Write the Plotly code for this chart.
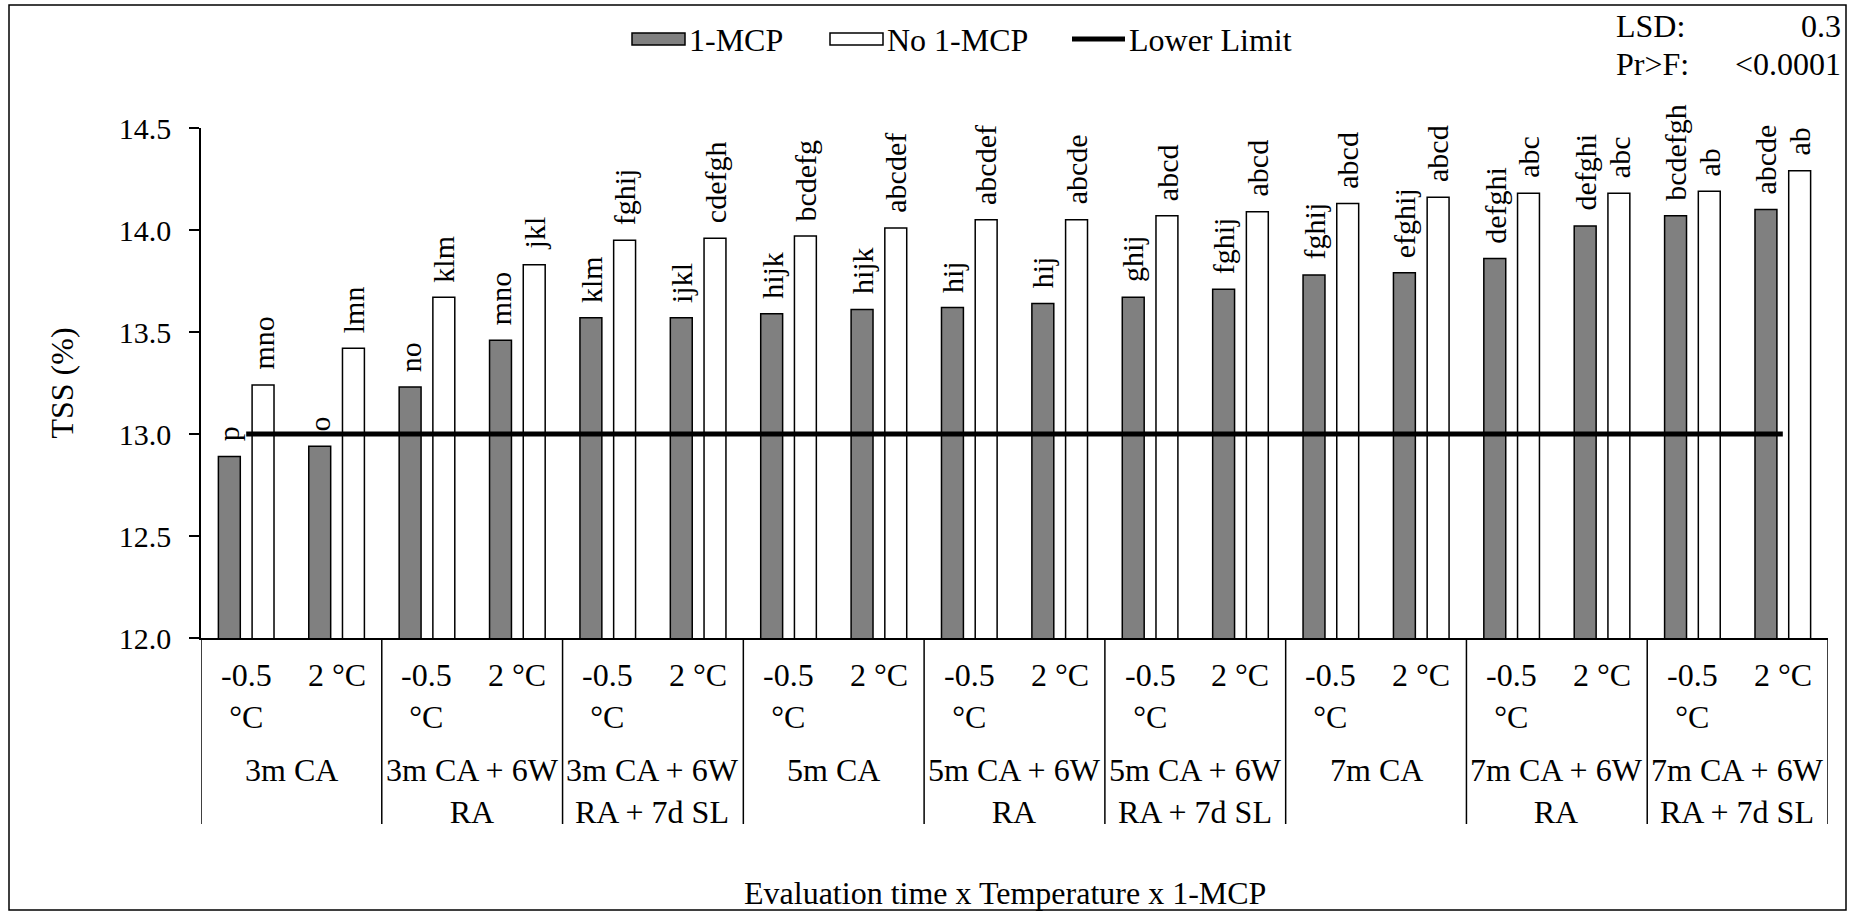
import plotly.graph_objects as go

# ---------------- data ----------------
groups = ["3m CA", "3m CA + 6W<br>RA", "3m CA + 6W<br>RA + 7d SL",
          "5m CA", "5m CA + 6W<br>RA", "5m CA + 6W<br>RA + 7d SL",
          "7m CA", "7m CA + 6W<br>RA", "7m CA + 6W<br>RA + 7d SL"]
temps = ["-0.5<br>°C", "2 °C"]

mcp_values = [12.89, 12.94, 13.23, 13.46, 13.57, 13.57, 13.59, 13.61, 13.62,
              13.64, 13.67, 13.71, 13.78, 13.79, 13.86, 14.02, 14.07, 14.10]
no_mcp_values = [13.24, 13.42, 13.67, 13.83, 13.95, 13.96, 13.97, 14.01, 14.05,
                 14.05, 14.07, 14.09, 14.13, 14.16, 14.18, 14.18, 14.19, 14.29]
mcp_letters = ["p", "o", "no", "mno", "klm", "ijkl", "hijk", "hijk", "hij",
               "hij", "ghij", "fghij", "fghij", "efghij", "defghi", "defghi",
               "bcdefgh", "abcde"]
no_mcp_letters = ["mno", "lmn", "klm", "jkl", "fghij", "cdefgh", "bcdefg",
                  "abcdef", "abcdef", "abcde", "abcd", "abcd", "abcd", "abcd",
                  "abc", "abc", "ab", "ab"]
lower_limit = 13.0
series_names = ["1-MCP", "No 1-MCP", "Lower Limit"]
lsd_text = ("LSD:", "0.3")
prf_text = ("Pr>F:", "<0.0001")
x_title = "Evaluation time x Temperature x 1-MCP"
y_title = "TSS (%)"

# ---------------- layout constants ----------------
W, H = 1854, 915
ML, MR, MT, MB = 201, 26, 128, 277
PW, PH = W - ML - MR, H - MT - MB
FONT = "Liberation Serif"
FS = 32          # general text
FS_TICK = 30     # y tick labels
FS_LET = 30      # significance letters
BARGAP, BARGROUPGAP = 0.254, 0.35
GRAY = "#808080"

n = len(groups) * len(temps)
pos = list(range(n))


def px_to_paper_x(px):
    return (px - ML) / PW


def px_to_paper_y(py):
    return (H - MB - py) / PH


def fnt(size=FS):
    return dict(family=FONT, size=size, color="black")


fig = go.Figure()
fig.add_trace(go.Bar(x=pos, y=mcp_values, name=series_names[0], showlegend=False,
                     marker=dict(color=GRAY, line=dict(color="black", width=1.5))))
fig.add_trace(go.Bar(x=pos, y=no_mcp_values, name=series_names[1], showlegend=False,
                     marker=dict(color="white", line=dict(color="black", width=1.5))))
fig.add_trace(go.Scatter(x=pos, y=[lower_limit] * n, name=series_names[2], mode="lines",
                         showlegend=False, line=dict(color="black", width=5)))

annotations = []
# significance letters above bars
slot = (1 - BARGAP) / 2
for i in pos:
    for val, lab, off in ((mcp_values[i], mcp_letters[i], -slot / 2),
                          (no_mcp_values[i], no_mcp_letters[i], slot / 2)):
        annotations.append(dict(x=i + off, y=val, xref="x", yref="y", text=lab,
                                textangle=-90, showarrow=False, yanchor="bottom",
                                xanchor="center", yshift=13, font=fnt(FS_LET)))

# temperature labels
for i in pos:
    annotations.append(dict(x=i, y=px_to_paper_y(655), xref="x", yref="paper",
                            text=temps[i % 2], showarrow=False, yanchor="top",
                            xanchor="center", align="center", font=fnt()))
# group labels
for g, name in enumerate(groups):
    annotations.append(dict(x=2 * g + 0.5, y=px_to_paper_y(750), xref="x", yref="paper",
                            text=name, showarrow=False, yanchor="top",
                            xanchor="center", align="center", font=fnt()))

# x axis title
annotations.append(dict(x=px_to_paper_x(1005), y=px_to_paper_y(893), xref="paper",
                        yref="paper", text=x_title, showarrow=False,
                        xanchor="center", yanchor="middle", font=fnt()))
# LSD / Pr>F
for (lab, val), py in ((lsd_text, 26), (prf_text, 64)):
    annotations.append(dict(x=px_to_paper_x(1614), y=px_to_paper_y(py), xref="paper",
                            yref="paper", text=lab, showarrow=False, xanchor="left",
                            yanchor="middle", font=fnt()))
    annotations.append(dict(x=px_to_paper_x(1843), y=px_to_paper_y(py), xref="paper",
                            yref="paper", text=val, showarrow=False, xanchor="right",
                            yanchor="middle", font=fnt()))

shapes = []
# group dividers below axis
for g in range(len(groups) + 1):
    shapes.append(dict(type="line", xref="x", yref="paper", x0=2 * g - 0.5, x1=2 * g - 0.5,
                       y0=0, y1=px_to_paper_y(824), line=dict(color="black", width=1.5)))
# outer frame
shapes.append(dict(type="rect", xref="paper", yref="paper",
                   x0=px_to_paper_x(9), x1=px_to_paper_x(1846),
                   y0=px_to_paper_y(910), y1=px_to_paper_y(5),
                   line=dict(color="black", width=1.5), fillcolor="rgba(0,0,0,0)", layer="below"))

# legend (Excel style: wide swatches)
LEG_Y = 39
legend_items = [
    (632, GRAY, "rect"),
    (830, "white", "rect"),
    (1072, "black", "line"),
]
for (x0, col, kind), name in zip(legend_items, series_names):
    if kind == "rect":
        shapes.append(dict(type="rect", xref="paper", yref="paper",
                           x0=px_to_paper_x(x0), x1=px_to_paper_x(x0 + 53),
                           y0=px_to_paper_y(LEG_Y + 6), y1=px_to_paper_y(LEG_Y - 6),
                           fillcolor=col, line=dict(color="black", width=1.5)))
    else:
        shapes.append(dict(type="line", xref="paper", yref="paper",
                           x0=px_to_paper_x(x0), x1=px_to_paper_x(x0 + 53),
                           y0=px_to_paper_y(LEG_Y), y1=px_to_paper_y(LEG_Y),
                           line=dict(color=col, width=5)))
    annotations.append(dict(x=px_to_paper_x(x0 + 55), y=px_to_paper_y(LEG_Y + 1),
                            xref="paper", yref="paper", text=name, showarrow=False,
                            xanchor="left", yanchor="middle", font=fnt()))

fig.update_layout(
    width=W, height=H,
    margin=dict(l=ML, r=MR, t=MT, b=MB, autoexpand=False),
    paper_bgcolor="white", plot_bgcolor="white",
    barmode="group", bargap=BARGAP, bargroupgap=BARGROUPGAP,
    font=fnt(),
    showlegend=False,
    xaxis=dict(range=[-0.5, n - 0.5], showticklabels=False, ticks="", showgrid=False,
               zeroline=False, showline=True, linecolor="black", linewidth=1.5),
    yaxis=dict(range=[12, 14.5], dtick=0.5, tick0=12, tickformat=".1f", ticks="outside",
               ticklen=10, tickwidth=1.5, tickcolor="black", showgrid=False, zeroline=False,
               showline=True, linecolor="black", linewidth=1.5, ticklabelstandoff=12,
               tickfont=fnt(FS_TICK),
               title=dict(text=y_title, standoff=36, font=fnt())),
    annotations=annotations,
    shapes=shapes,
)

fig.write_html("out.html")
